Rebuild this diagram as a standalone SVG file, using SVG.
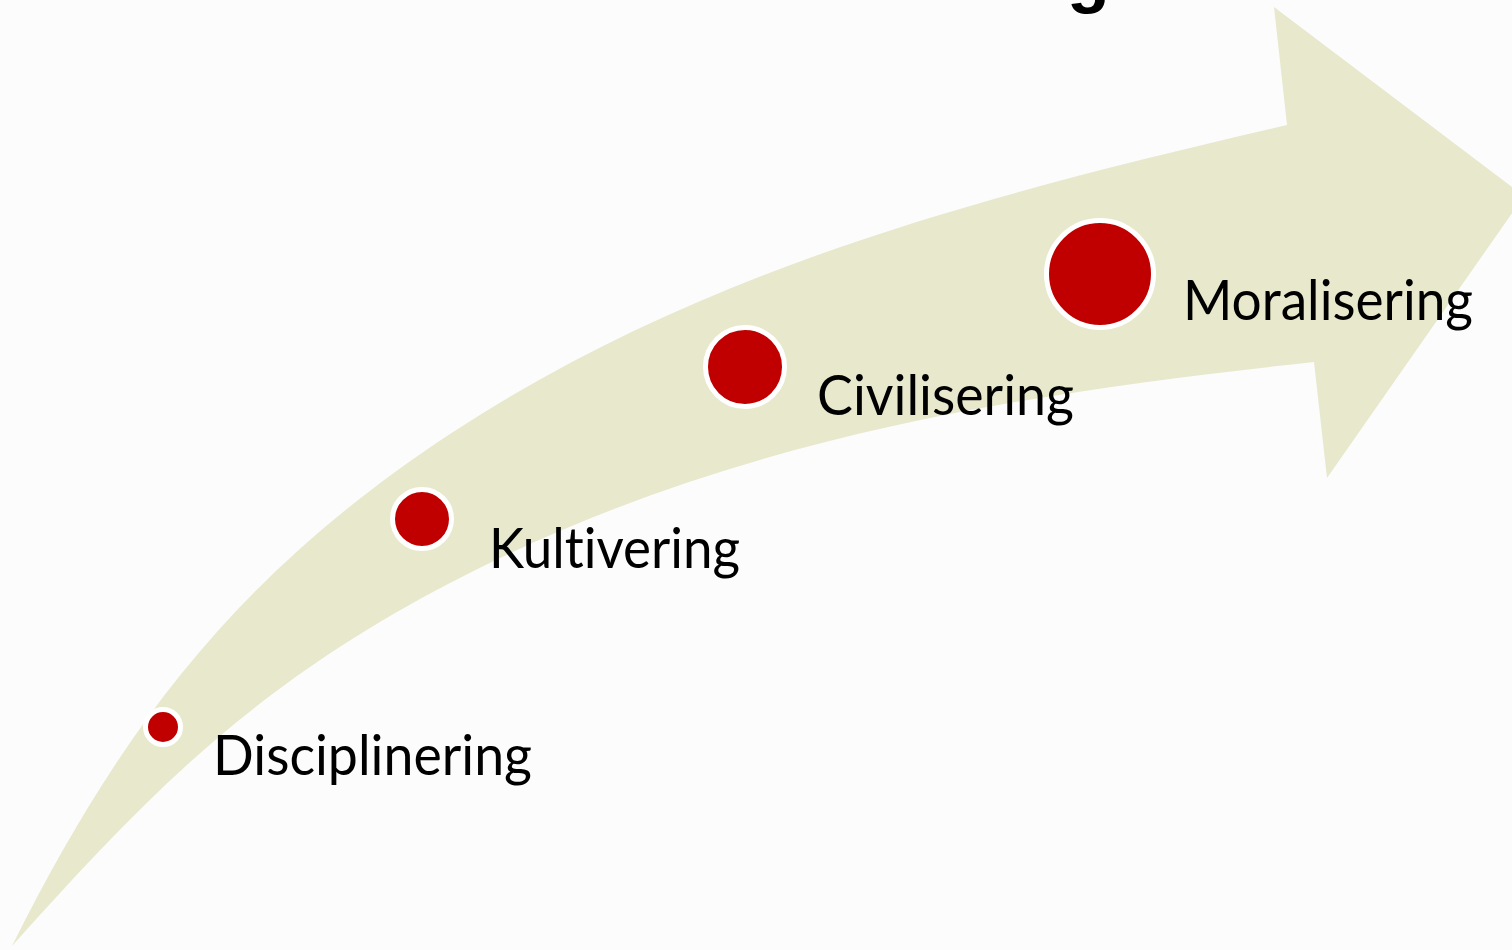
<svg xmlns="http://www.w3.org/2000/svg" width="1512" height="950" viewBox="0 0 1512 950">
<style>
.lbl{font-family:Lato,"Liberation Sans",sans-serif;font-size:56px;fill:#000;font-variant-ligatures:none}
.dot{fill:#C00000;stroke:#FFFFFF;stroke-width:5}
.title{font-family:"Liberation Sans",Arial,sans-serif;font-weight:bold;font-size:70px;fill:#000}
</style>
<rect x="0" y="0" width="1512" height="950" fill="#FCFCFC"/>
<text class="title" x="1067" y="-1">g</text>
<g id="arrow">
<path d="M12,946 C124,722 241,572 450,434 C706,266 995,193 1287,125 L1274,7 L1524,196 L1327,478 L1314,362 C1019,394 730,437 450,583 C246,689 139,805 12,946 Z" fill="#E8E8CD"/>
</g>
<g id="connectors"></g>
<g id="node-disciplinering">
<circle class="dot" cx="163" cy="727" r="17.5"/>
<text class="lbl" x="213" y="775" textLength="319" lengthAdjust="spacingAndGlyphs">Disciplinering</text>
</g>
<g id="node-kultivering">
<circle class="dot" cx="422" cy="519" r="29.5"/>
<text class="lbl" x="489" y="568" textLength="251" lengthAdjust="spacingAndGlyphs">Kultivering</text>
</g>
<g id="node-civilisering">
<circle class="dot" cx="745" cy="367" r="39.5"/>
<text class="lbl" x="817" y="415" textLength="257" lengthAdjust="spacingAndGlyphs">Civilisering</text>
</g>
<g id="node-moralisering">
<circle class="dot" cx="1100" cy="274" r="53.5"/>
<text class="lbl" x="1183" y="320" textLength="290" lengthAdjust="spacingAndGlyphs">Moralisering</text>
</g>
</svg>
